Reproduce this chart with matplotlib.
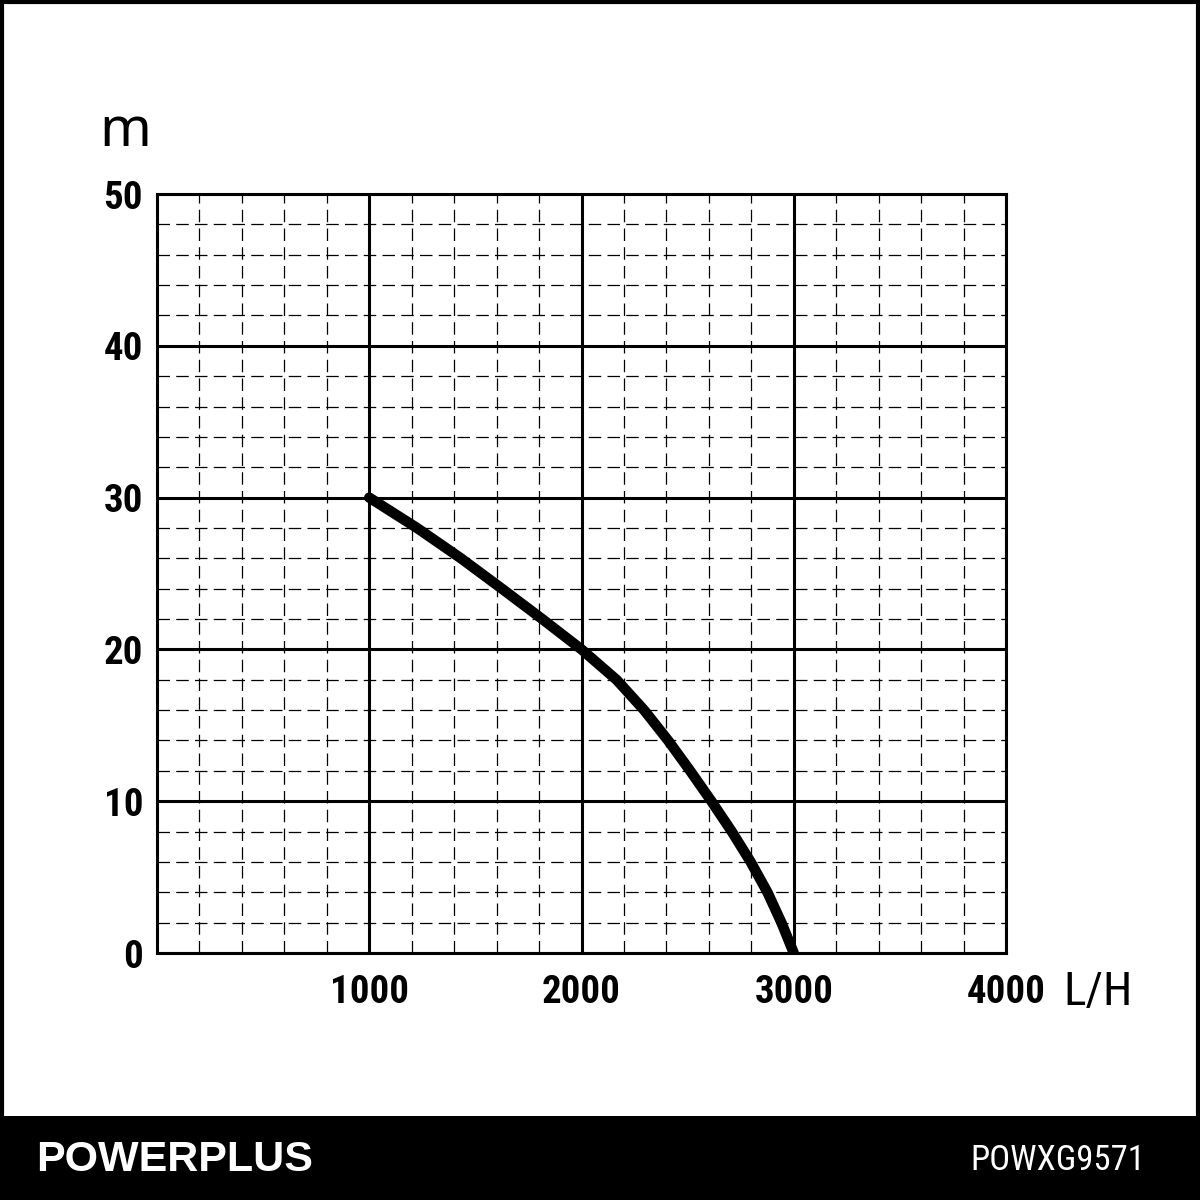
import matplotlib
matplotlib.use("Agg")
import matplotlib.pyplot as plt
from matplotlib.patches import Rectangle
from matplotlib.ticker import MultipleLocator

# Data
flow_lh = [1000, 1225, 1432, 1625, 1815, 2000, 2165, 2295, 2408, 2512, 2612, 2708, 2797, 2876, 2942, 3000]
head_m = [30, 28, 26, 24, 22, 20, 18, 16, 14, 12, 10, 8, 6, 4, 2, 0]
x_ticks = [1000, 2000, 3000, 4000]
x_tick_labels = ["1000", "2000", "3000", "4000"]
y_ticks = [0, 10, 20, 30, 40, 50]
y_tick_labels = ["0", "10", "20", "30", "40", "50"]
brand = "POWERPLUS"
model = "POWXG9571"
x_unit = "L/H"
y_unit = "m"

narrow = ["Roboto Condensed", "DejaVu Sans"]

fig = plt.figure(figsize=(12, 12), dpi=100)
fig.patch.set_facecolor("white")
ax = fig.add_axes([157/1200, 1-953/1200, (1006-157)/1200, (953-194)/1200])

ax.set_xlim(0, 4000)
ax.set_ylim(0, 50)

ax.xaxis.set_minor_locator(MultipleLocator(200))
ax.yaxis.set_minor_locator(MultipleLocator(2))
ax.set_xticks(x_ticks)
ax.set_xticklabels(x_tick_labels)
ax.set_yticks(y_ticks)
ax.set_yticklabels(y_tick_labels)

ax.grid(which="major", color="black", linewidth=2.2, linestyle="-")
ax.grid(which="minor", color="black", linewidth=0.9, linestyle=(0, (10, 5)))
ax.set_axisbelow(True)
for s in ax.spines.values():
    s.set_linewidth(2.2)
    s.set_color("black")

ax.tick_params(which="both", length=0)
ax.tick_params(axis="x", pad=15)
ax.tick_params(axis="y", pad=10)
for lab in ax.get_xticklabels() + ax.get_yticklabels():
    lab.set_fontfamily(narrow)
    lab.set_fontweight("bold")
    lab.set_fontsize(28)

ax.plot(flow_lh, head_m, color="black", linewidth=7.5, solid_capstyle="round",
        solid_joinstyle="round", zorder=5)

fig.text(125/1200, 1-132/1200, y_unit, fontsize=40, family=["Noto Sans", "DejaVu Sans"],
         ha="center", va="center")
fig.text(1098/1200, 1-992/1200, x_unit, fontsize=34, family=narrow,
         ha="center", va="center")

# bottom bar
fig.patches.append(Rectangle((0, 0), 1, 84/1200, transform=fig.transFigure,
                             facecolor="black", edgecolor="none", zorder=0))
fig.text(36/1200, 1-1160/1200, brand, fontsize=31, fontweight="bold",
         family=["Liberation Sans", "DejaVu Sans"], color="white", ha="left", va="center")
fig.text(1145/1200, 1-1160/1200, model, fontsize=25,
         family=narrow, color="white", ha="right", va="center")

# outer frame
fig.patches.append(Rectangle((2/1200, 2/1200), 1196/1200, 1196/1200, transform=fig.transFigure,
                             facecolor="none", edgecolor="black", linewidth=3, zorder=0))

fig.savefig("out.png", dpi=100, facecolor="white")
